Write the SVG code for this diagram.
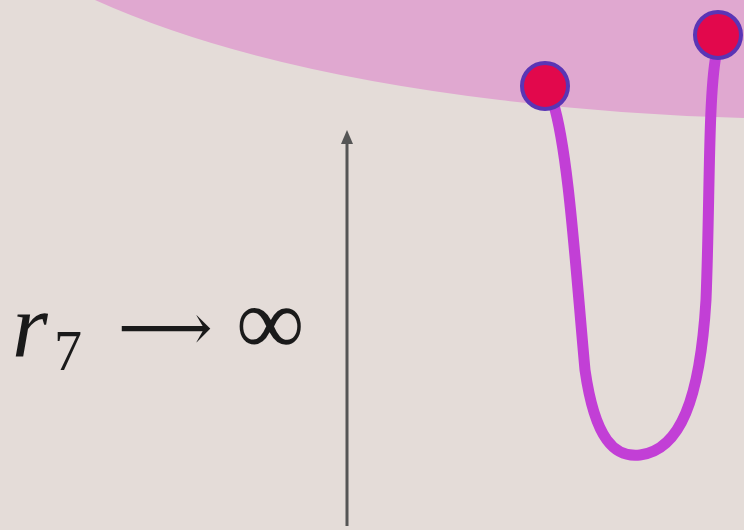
<svg xmlns="http://www.w3.org/2000/svg" width="744" height="530" viewBox="0 0 744 530">
<style>
.t{font-family:"Liberation Serif","DejaVu Serif",serif;fill:#1a1a1a}
.dot{fill:#e2084c;stroke:#5a35b5;stroke-width:4}
</style>
<defs>
<marker id="ah" markerWidth="14" markerHeight="12" refX="2" refY="6" orient="auto" markerUnits="userSpaceOnUse">
<path d="M0,0 L14,6 L0,12 Z" fill="#555"/>
</marker>
</defs>
<rect width="744" height="530" fill="#e4dcd8"/>
<g id="region">
<path d="M95,0 Q250,70 500,100 Q620,115 744,118 L744,0 Z" fill="#e0a8d0"/>
</g>
<g id="connectors">
<line x1="347" y1="526" x2="347" y2="142" stroke="#555" stroke-width="3" marker-end="url(#ah)"/>
<path d="M553,102 C568,150 575,260 585,370 C595,440 615,458 640,455 C680,450 700,400 706,300 C710,200 708,100 716,55" fill="none" stroke="#c23fd6" stroke-width="11" stroke-linecap="round"/>
</g>
<g id="n1"><circle class="dot" cx="545" cy="86" r="23"/></g>
<g id="n2"><circle class="dot" cx="718" cy="35" r="23"/></g>
<g id="label">
<text class="t" x="12" y="356" font-size="92" font-style="italic">r</text>
<text class="t" x="54" y="370" font-size="56">7</text>
<text class="t" x="118" y="350" font-size="66">⟶</text>
<text class="t" x="236" y="354" font-size="96">∞</text>
</g>
</svg>
